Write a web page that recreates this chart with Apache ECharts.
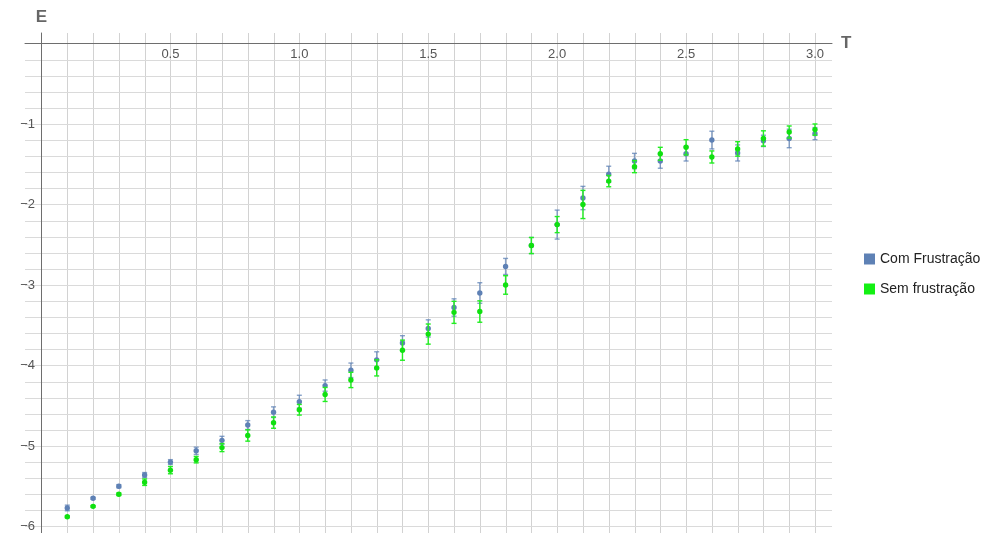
<!DOCTYPE html>
<html><head><meta charset="utf-8">
<script src="https://cdn.jsdelivr.net/npm/echarts@6/dist/echarts.min.js"></script>
<style>html,body{margin:0;padding:0;background:#fff}#c{width:994px;height:533px}</style>
</head><body><div id="c"></div>
<script>
// Temperatures (T)
const temps = [0.1,0.2,0.3,0.4,0.5,0.6,0.7,0.8,0.9,1.0,1.1,1.2,1.3,1.4,1.5,1.6,1.7,1.8,1.9,2.0,2.1,2.2,2.3,2.4,2.5,2.6,2.7,2.8,2.9,3.0];
// "Com Frustração" energies and error bars
const comE   = [-5.77,-5.65,-5.50,-5.36,-5.20,-5.06,-4.93,-4.74,-4.58,-4.45,-4.25,-4.06,-3.93,-3.72,-3.54,-3.28,-3.10,-2.77,-2.51,-2.25,-1.92,-1.625,-1.46,-1.46,-1.37,-1.20,-1.36,-1.21,-1.18,-1.12];
const comErr = [0.035,0.012,0.02,0.03,0.03,0.045,0.05,0.055,0.066,0.08,0.07,0.09,0.10,0.09,0.107,0.108,0.128,0.10,0.10,0.18,0.145,0.10,0.095,0.09,0.09,0.11,0.10,0.07,0.115,0.075];
// "Sem frustração" energies and error bars
const semE   = [-5.88,-5.75,-5.60,-5.45,-5.30,-5.17,-5.02,-4.87,-4.71,-4.55,-4.36,-4.18,-4.03,-3.81,-3.61,-3.34,-3.33,-3.00,-2.51,-2.25,-2.00,-1.71,-1.53,-1.37,-1.29,-1.41,-1.31,-1.18,-1.10,-1.07];
const semErr = [0.01,0.01,0.015,0.04,0.045,0.04,0.05,0.07,0.07,0.066,0.087,0.095,0.10,0.125,0.125,0.137,0.133,0.115,0.10,0.10,0.175,0.07,0.075,0.08,0.095,0.075,0.09,0.095,0.075,0.07];
// Tick labels
const xTickLabels = [0.5,1.0,1.5,2.0,2.5,3.0];
const yTickLabels = [-6,-5,-4,-3,-2,-1];
const seriesNames = ['Com Frustração','Sem frustração'];

// grid line positions
const xGrid = []; for (let i = 1; i <= 30; i++) xGrid.push(+(i / 10).toFixed(1));
const yGrid = []; for (let i = 1; i <= 30; i++) yGrid.push(+(-i * 0.2).toFixed(1));

const comData = temps.map((t, i) => [t, comE[i], comErr[i]]);
const semData = temps.map((t, i) => [t, semE[i], semErr[i]]);

function errRender(fill, bar) {
  return function (params, api) {
    const x = api.value(0), y = api.value(1), e = api.value(2);
    const top = api.coord([x, y + e]), bot = api.coord([x, y - e]), c = api.coord([x, y]);
    const w = 2.5;
    return {type: 'group', children: [
      {type: 'line', shape: {x1: top[0], y1: top[1], x2: bot[0], y2: bot[1]}, style: {stroke: bar, lineWidth: 1.4}},
      {type: 'line', shape: {x1: top[0] - w, y1: top[1], x2: top[0] + w, y2: top[1]}, style: {stroke: bar, lineWidth: 1.4}},
      {type: 'line', shape: {x1: bot[0] - w, y1: bot[1], x2: bot[0] + w, y2: bot[1]}, style: {stroke: bar, lineWidth: 1.4}},
      {type: 'circle', shape: {cx: c[0], cy: c[1], r: 2.7}, style: {fill: fill}}
    ]};
  };
}
function vGrid(params, api) {
  const cs = params.coordSys;
  const p = api.coord([api.value(0), 0]);
  return {type: 'line', shape: {x1: Math.round(p[0]) + 0.5, y1: cs.y, x2: Math.round(p[0]) + 0.5, y2: cs.y + cs.height},
          style: {stroke: '#d2d2d2', lineWidth: 1}};
}
function hGrid(params, api) {
  const cs = params.coordSys;
  const p = api.coord([0, api.value(1)]);
  return {type: 'line', shape: {x1: cs.x, y1: Math.round(p[1]) + 0.5, x2: cs.x + cs.width, y2: Math.round(p[1]) + 0.5},
          style: {stroke: '#dadada', lineWidth: 1}};
}

const chart = echarts.init(document.getElementById('c'), null, {renderer: 'canvas'});
const font = 'Liberation Sans, Arial, sans-serif';
chart.setOption({
  animation: false,
  backgroundColor: '#fff',
  textStyle: {fontFamily: font},
  grid: {left: 25, top: 33, width: 807, height: 500, containLabel: false, outerBoundsMode: 'none'},
  xAxis: {
    type: 'value', min: -0.064, max: 3.066, z: 5,
    axisLine: {onZero: true, lineStyle: {color: '#6e6e6e', width: 1}},
    axisTick: {show: false},
    splitLine: {show: false},
    axisLabel: {customValues: xTickLabels, formatter: v => v.toFixed(1), color: '#555', fontSize: 13, margin: -485, fontFamily: font},
    name: 'T', nameLocation: 'end', nameGap: 9,
    nameTextStyle: {fontWeight: 'bold', fontSize: 17, color: '#666', fontFamily: font}
  },
  yAxis: {
    type: 'value', min: -6.081, max: 0.13, z: 5,
    axisLine: {onZero: true, lineStyle: {color: '#6e6e6e', width: 1}},
    axisTick: {show: false},
    splitLine: {show: false},
    axisLabel: {customValues: yTickLabels, formatter: v => (v < 0 ? '\u2212' : '') + Math.abs(v), color: '#555', fontSize: 13, margin: -10, fontFamily: font},
    name: 'E', nameLocation: 'end', nameGap: 7,
    nameTextStyle: {fontWeight: 'bold', fontSize: 17, color: '#666', fontFamily: font, align: 'center'}
  },
  legend: {
    orient: 'vertical', left: 864, top: 252, padding: 0,
    itemWidth: 11, itemHeight: 11, itemGap: 16,
    textStyle: {fontSize: 14, color: '#222', fontFamily: font},
    data: [{name: seriesNames[0], icon: 'rect'}, {name: seriesNames[1], icon: 'rect'}]
  },
  series: [
    {type: 'custom', silent: true, z: 1, renderItem: vGrid, data: xGrid.map(v => [v, 0])},
    {type: 'custom', silent: true, z: 1, renderItem: hGrid, data: yGrid.map(v => [0, v])},
    {name: seriesNames[0], type: 'custom', z: 6, itemStyle: {color: '#5e81b5'},
     renderItem: errRender('#5e81b5', 'rgba(94,129,181,0.75)'), data: comData},
    {name: seriesNames[1], type: 'custom', z: 7, itemStyle: {color: '#14f014'},
     renderItem: errRender('#10e010', '#22ee22'), data: semData}
  ]
});
</script>
</body></html>
